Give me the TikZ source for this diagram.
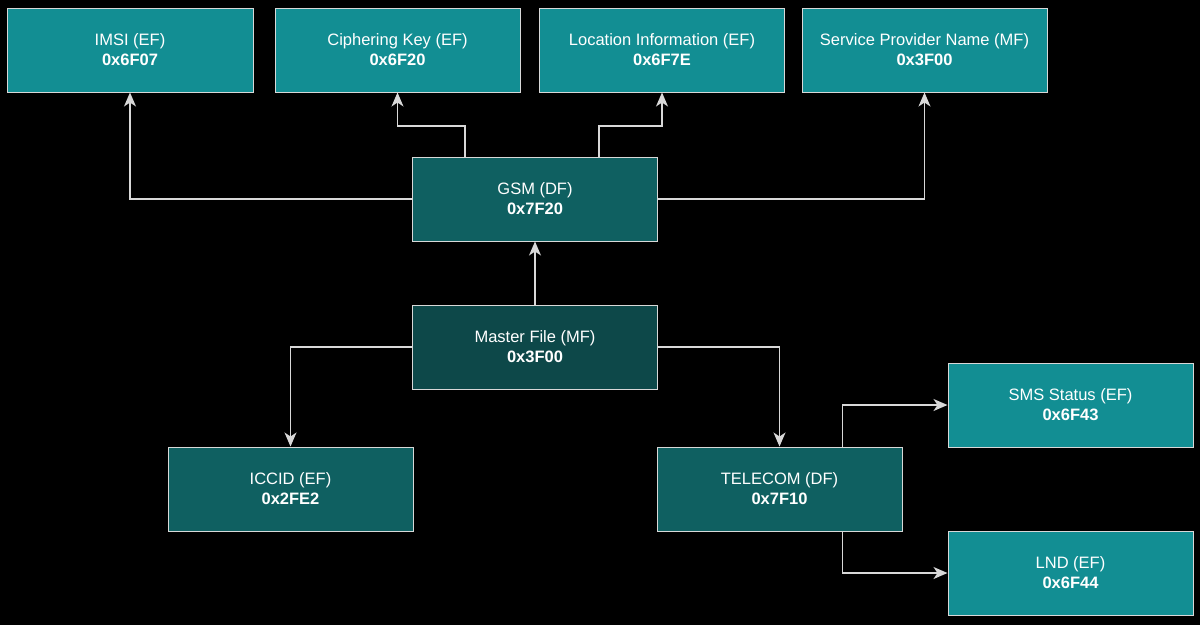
\documentclass[tikz,border=0pt]{standalone}
\usepackage{fontspec}
\setmainfont{Liberation Sans}
\usetikzlibrary{arrows.meta,positioning}
\definecolor{efcol}{HTML}{128E93}
\definecolor{dfcol}{HTML}{0F6061}
\definecolor{mfcol}{HTML}{0D4849}
\definecolor{edgecol}{HTML}{D8D8D8}
\tikzset{
  box/.style={draw=edgecol,line width=1pt,minimum width=245pt,minimum height=84pt,
    text=white,align=center,font=\fontsize{16.5}{20}\selectfont,inner sep=0pt},
  efbox/.style={box,fill=efcol},
  dfbox/.style={box,fill=dfcol},
  mfbox/.style={box,fill=mfcol},
  conn/.style={draw=edgecol,line width=1.3pt,-{Stealth[length=14pt,width=12pt,inset=4pt]},color=edgecol},
}
\begin{document}
\begin{tikzpicture}[x=1pt,y=-1pt]
\fill[black] (0,0) rectangle (1200,625);
\useasboundingbox (0,0) rectangle (1200,625);
\node[efbox,minimum width=246pt] (imsi) at (130,50) {IMSI (EF)\\\textbf{0x6F07}};
\node[efbox] (ck) at (397.5,50) {Ciphering Key (EF)\\\textbf{0x6F20}};
\node[efbox] (loc) at (662,50) {Location Information (EF)\\\textbf{0x6F7E}};
\node[efbox] (spn) at (924.5,50) {Service Provider Name (MF)\\\textbf{0x3F00}};
\node[dfbox] (gsm) at (535,199) {GSM (DF)\\\textbf{0x7F20}};
\node[mfbox] (mf) at (535,347) {Master File (MF)\\\textbf{0x3F00}};
\node[dfbox] (iccid) at (290.5,489) {ICCID (EF)\\\textbf{0x2FE2}};
\node[dfbox] (tel) at (779.5,489) {TELECOM (DF)\\\textbf{0x7F10}};
\node[efbox] (sms) at (1070.5,405) {SMS Status (EF)\\\textbf{0x6F43}};
\node[efbox] (lnd) at (1070.5,573) {LND (EF)\\\textbf{0x6F44}};
% connectors
\draw[conn] (gsm.west) -| (imsi.south);
\coordinate (g1) at ([xshift=-70pt]gsm.north);
\coordinate (g2) at ([xshift=64pt]gsm.north);
\draw[conn] (g1) |- (397.5,126) -- (ck.south);
\draw[conn] (g2) |- (662,126) -- (loc.south);
\draw[conn] (gsm.east) -| (spn.south);
\draw[conn] (mf.north) -- (gsm.south);
\draw[conn] (mf.west) -| (iccid.north);
\draw[conn] (mf.east) -| (tel.north);
\coordinate (t1) at ([xshift=63pt]tel.north);
\coordinate (t2) at ([xshift=63pt]tel.south);
\draw[conn] (t1) |- (sms.west);
\draw[conn] (t2) |- (lnd.west);
\end{tikzpicture}
\end{document}
